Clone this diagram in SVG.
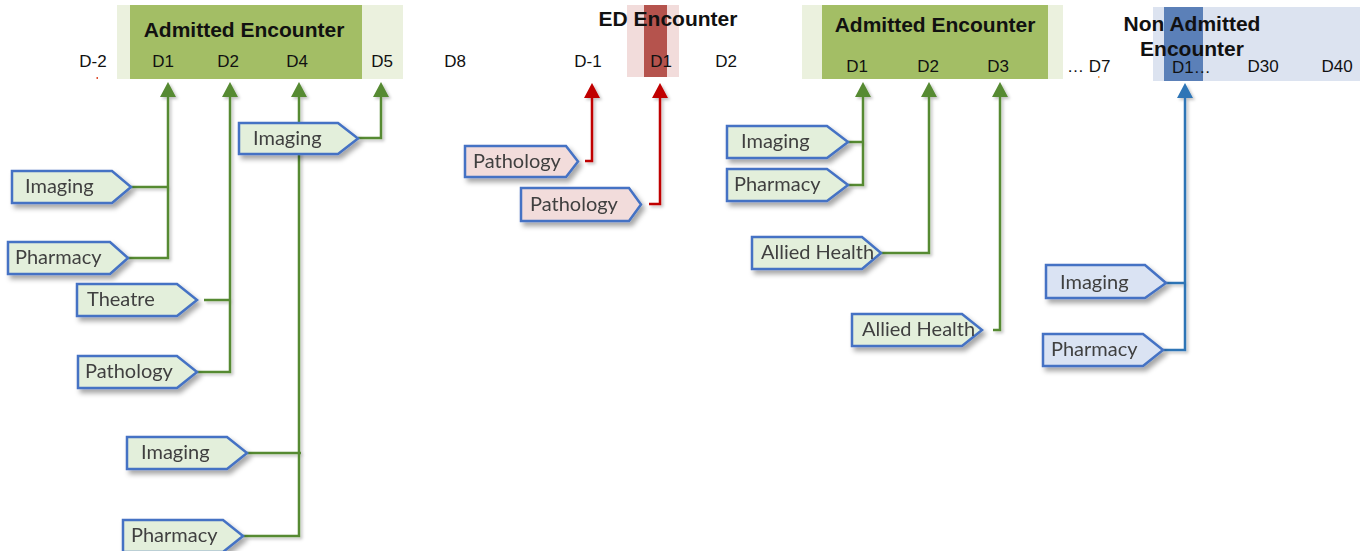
<svg xmlns="http://www.w3.org/2000/svg" width="1360" height="551" viewBox="0 0 1360 551">
  <style>
    .day { font-family: "Liberation Sans", Arial, sans-serif; font-size: 17px; fill: #111; text-anchor: middle; }
    .title { font-family: "Liberation Sans", Arial, sans-serif; font-size: 21px; font-weight: bold; fill: #111; text-anchor: middle; }
    .lbl { font-family: Lato, "Open Sans", sans-serif; font-size: 20px; fill: #3f3f3f; }
    .node { stroke: #4472c4; stroke-width: 2.5; stroke-linejoin: miter; }
    .g { fill: #e3efdb; }
    .p { fill: #f2dcdb; }
    .b { fill: #dae3f3; }
    .cg { fill: none; stroke: #578a33; stroke-width: 2.5; }
    .cr { fill: none; stroke: #c00000; stroke-width: 2.5; }
    .cb { fill: none; stroke: #2e75b6; stroke-width: 2.5; }
  </style>
  <defs>
    <filter id="shadow" x="-20%" y="-30%" width="150%" height="180%">
      <feDropShadow dx="3" dy="4" stdDeviation="2.5" flood-color="#000" flood-opacity="0.35"/>
    </filter>
    <filter id="lineShadow" x="-20%" y="-5%" width="150%" height="120%">
      <feDropShadow dx="2" dy="2" stdDeviation="1.5" flood-color="#000" flood-opacity="0.25"/>
    </filter>
    <marker id="arrowG" viewBox="0 0 15 16" refX="0" refY="8" markerWidth="15" markerHeight="16" markerUnits="userSpaceOnUse" orient="auto">
      <path d="M0,0 L15,8 L0,16 z" fill="#578a33"/>
    </marker>
    <marker id="arrowR" viewBox="0 0 15 16" refX="0" refY="8" markerWidth="15" markerHeight="16" markerUnits="userSpaceOnUse" orient="auto">
      <path d="M0,0 L15,8 L0,16 z" fill="#c00000"/>
    </marker>
    <marker id="arrowB" viewBox="0 0 15 16" refX="0" refY="8" markerWidth="15" markerHeight="16" markerUnits="userSpaceOnUse" orient="auto">
      <path d="M0,0 L15,8 L0,16 z" fill="#2e75b6"/>
    </marker>
  </defs>

  <rect width="1360" height="551" fill="#ffffff"/>

  <!-- timeline bands -->
  <g id="band-admitted-1">
    <rect x="117" y="5" width="286" height="74" fill="#ebf1de"/>
    <rect x="130" y="5" width="232" height="74" fill="#a3be65"/>
    <text class="title" x="244" y="37">Admitted Encounter</text>
  </g>
  <g id="band-ed">
    <rect x="627" y="5" width="52" height="72" fill="#f2dcdb"/>
    <rect x="644" y="5" width="23" height="72" fill="#b5534d"/>
    <text class="title" x="668" y="26">ED Encounter</text>
  </g>
  <g id="band-admitted-2">
    <rect x="802" y="5" width="261" height="74" fill="#ebf1de"/>
    <rect x="822" y="5" width="226" height="74" fill="#a3be65"/>
    <text class="title" x="935" y="32">Admitted Encounter</text>
  </g>
  <g id="band-non-admitted">
    <rect x="1153" y="7" width="207" height="74" fill="#dce3f0"/>
    <rect x="1164" y="7" width="39" height="74" fill="#5b80b8"/>
    <text class="title" x="1192" y="31">Non Admitted</text>
    <text class="title" x="1192" y="56">Encounter</text>
  </g>

  <!-- day labels -->
  <g id="days">
    <text class="day" x="93" y="67">D-2</text>
    <text class="day" x="163" y="67">D1</text>
    <text class="day" x="228" y="67">D2</text>
    <text class="day" x="297" y="67">D4</text>
    <text class="day" x="382" y="67">D5</text>
    <text class="day" x="455" y="67">D8</text>
    <text class="day" x="588" y="67">D-1</text>
    <text class="day" x="661" y="67">D1</text>
    <text class="day" x="726" y="67">D2</text>
    <text class="day" x="857" y="72">D1</text>
    <text class="day" x="928" y="72">D2</text>
    <text class="day" x="998" y="72">D3</text>
    <text class="day" x="1067" y="72" style="text-anchor:start">… D7</text>
    <text class="day" x="1172" y="73" style="text-anchor:start">D1…</text>
    <text class="day" x="1263" y="72">D30</text>
    <text class="day" x="1337" y="72">D40</text>
    <rect x="96.5" y="77" width="1.5" height="2" fill="#e05030"/>
    <rect x="1098" y="76" width="1.5" height="2" fill="#f0a050"/>
  </g>

  <!-- connectors -->
  <g id="connectors" filter="url(#lineShadow)">
    <!-- admitted encounter 1 -->
    <path class="cg" d="M128,258 H168 V97" marker-end="url(#arrowG)"/>
    <path class="cg" d="M131,187 H168"/>
    <path class="cg" d="M197,372 H230 V97" marker-end="url(#arrowG)"/>
    <path class="cg" d="M204,300 H230"/>
    <path class="cg" d="M243,536 H299 V97" marker-end="url(#arrowG)"/>
    <path class="cg" d="M247,453 H301"/>
    <path class="cg" d="M358,138 H381 V97" marker-end="url(#arrowG)"/>
    <!-- ED encounter -->
    <path class="cr" d="M585,161 H592 V98" marker-end="url(#arrowR)"/>
    <path class="cr" d="M649,204 H660 V98" marker-end="url(#arrowR)"/>
    <!-- admitted encounter 2 -->
    <path class="cg" d="M848,185 H863 V97" marker-end="url(#arrowG)"/>
    <path class="cg" d="M848,142 H863"/>
    <path class="cg" d="M881,253 H929 V97" marker-end="url(#arrowG)"/>
    <path class="cg" d="M993,330 H1000 V97" marker-end="url(#arrowG)"/>
    <!-- non admitted encounter -->
    <path class="cb" d="M1163,350 H1185 V98" marker-end="url(#arrowB)"/>
    <path class="cb" d="M1166,283 H1185"/>
  </g>

  <!-- service nodes -->
  <g id="n-imaging-1" filter="url(#shadow)">
    <path class="node g" d="M12,171 H112 L131,187 L112,203 H12 Z"/>
    <text class="lbl" x="25" y="193">Imaging</text>
  </g>
  <g id="n-pharmacy-1" filter="url(#shadow)">
    <path class="node g" d="M8,242 H110 L128,258 L110,274 H8 Z"/>
    <text class="lbl" x="15" y="264">Pharmacy</text>
  </g>
  <g id="n-theatre" filter="url(#shadow)">
    <path class="node g" d="M77,284 H177 L197,300 L177,316 H77 Z"/>
    <text class="lbl" x="87" y="306">Theatre</text>
  </g>
  <g id="n-pathology-1" filter="url(#shadow)">
    <path class="node g" d="M78,356 H177 L197,372 L177,388 H78 Z"/>
    <text class="lbl" x="85" y="378">Pathology</text>
  </g>
  <g id="n-imaging-2" filter="url(#shadow)">
    <path class="node g" d="M239,123 H338 L358,138.5 L338,154 H239 Z"/>
    <text class="lbl" x="253" y="145">Imaging</text>
  </g>
  <g id="n-imaging-3" filter="url(#shadow)">
    <path class="node g" d="M127,437 H227 L247,453 L227,469 H127 Z"/>
    <text class="lbl" x="141" y="459">Imaging</text>
  </g>
  <g id="n-pharmacy-2" filter="url(#shadow)">
    <path class="node g" d="M123,520 H223 L243,536 L223,552 H123 Z"/>
    <text class="lbl" x="131" y="542">Pharmacy</text>
  </g>

  <g id="n-ed-pathology-1" filter="url(#shadow)">
    <path class="node p" d="M465,146 H566 L578,161.5 L566,177 H465 Z"/>
    <text class="lbl" x="473" y="168">Pathology</text>
  </g>
  <g id="n-ed-pathology-2" filter="url(#shadow)">
    <path class="node p" d="M521,188 H629 L641,204.5 L629,221 H521 Z"/>
    <text class="lbl" x="530" y="211">Pathology</text>
  </g>

  <g id="n-imaging-4" filter="url(#shadow)">
    <path class="node g" d="M727,126 H827 L848,142 L827,158 H727 Z"/>
    <text class="lbl" x="741" y="148">Imaging</text>
  </g>
  <g id="n-pharmacy-3" filter="url(#shadow)">
    <path class="node g" d="M727,169 H827 L848,185 L827,201 H727 Z"/>
    <text class="lbl" x="734" y="191">Pharmacy</text>
  </g>
  <g id="n-allied-1" filter="url(#shadow)">
    <path class="node g" d="M752,237 H862 L881,253 L862,269 H752 Z"/>
    <text class="lbl" x="761" y="259">Allied Health</text>
  </g>
  <g id="n-allied-2" filter="url(#shadow)">
    <path class="node g" d="M852,314 H962 L982,330 L962,346 H852 Z"/>
    <text class="lbl" x="862" y="336">Allied Health</text>
  </g>

  <g id="n-imaging-5" filter="url(#shadow)">
    <path class="node b" d="M1046,265 H1145 L1166,283 L1145,298 H1046 Z"/>
    <text class="lbl" x="1060" y="289">Imaging</text>
  </g>
  <g id="n-pharmacy-4" filter="url(#shadow)">
    <path class="node b" d="M1043,334 H1143 L1163,350 L1143,366 H1043 Z"/>
    <text class="lbl" x="1051" y="356">Pharmacy</text>
  </g>
</svg>
